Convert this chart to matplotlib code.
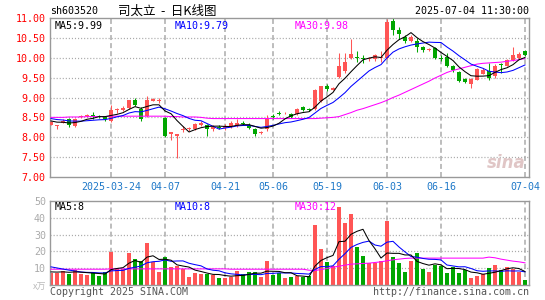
import matplotlib
matplotlib.use('Agg')
import matplotlib.pyplot as plt
import numpy as np
import pandas as pd

plt.rcParams['lines.scale_dashes'] = False

W, H = 545, 300

# ---------------- data ----------------
opens = [8.32, 8.29, 8.37, 8.47, 8.29, 8.51, 8.54, 8.55, 8.54, 8.51,
         8.40, 8.68, 8.68, 8.73, 8.93, 8.72, 8.53, 8.92, 8.91, 8.48,
         8.07, 8.04, 8.18, 8.20, 8.20, 8.30, 8.30, 8.20, 8.26, 8.24,
         8.28, 8.28, 8.37, 8.31, 8.22, 8.11, 8.20, 8.54, 8.61, 8.60,
         8.58, 8.58, 8.77, 8.71, 8.70, 8.90, 9.28, 9.20, 9.52, 9.66,
         9.99, 10.01, 10.00, 9.96, 9.98, 9.99, 9.99, 10.92, 10.70, 10.53,
         10.43, 10.43, 10.28, 10.20, 10.24, 10.00, 10.01, 9.79, 9.64, 9.47,
         9.33, 9.45, 9.60, 9.67, 9.55, 9.85, 9.80, 9.95, 10.00, 10.16]
highs = [8.40, 8.32, 8.45, 8.49, 8.48, 8.56, 8.59, 8.63, 8.57, 8.54,
         8.80, 8.74, 8.78, 8.94, 8.99, 8.76, 9.05, 9.00, 8.98, 8.50,
         8.14, 8.08, 8.28, 8.27, 8.35, 8.40, 8.34, 8.30, 8.32, 8.33,
         8.40, 8.45, 8.40, 8.35, 8.24, 8.16, 8.55, 8.58, 8.65, 8.64,
         8.60, 8.73, 8.79, 8.74, 9.22, 9.30, 9.33, 9.27, 10.12, 10.12,
         10.47, 10.18, 10.08, 10.02, 10.10, 10.18, 10.97, 10.99, 10.78, 10.57,
         10.58, 10.50, 10.30, 10.25, 10.26, 10.07, 10.12, 9.82, 9.66, 9.50,
         9.49, 9.75, 9.73, 9.86, 9.84, 9.86, 9.97, 10.27, 10.14, 10.20]
lows = [8.30, 8.22, 8.35, 8.25, 8.27, 8.48, 8.52, 8.47, 8.48, 8.40,
        8.38, 8.62, 8.66, 8.72, 8.78, 8.40, 8.50, 8.90, 8.87, 8.01,
        7.93, 7.47, 8.12, 8.15, 8.18, 8.28, 8.02, 8.15, 8.20, 8.18,
        8.23, 8.25, 8.30, 8.21, 8.02, 8.09, 8.15, 8.45, 8.55, 8.58,
        8.49, 8.55, 8.65, 8.66, 8.68, 8.88, 9.17, 9.18, 9.50, 9.62,
        9.97, 9.90, 9.88, 9.93, 9.92, 9.90, 9.97, 10.58, 10.48, 10.38,
        10.40, 10.15, 10.15, 10.17, 9.97, 9.92, 9.76, 9.65, 9.40, 9.36,
        9.24, 9.43, 9.58, 9.45, 9.48, 9.62, 9.78, 9.93, 9.98, 10.05]
closes = [8.38, 8.30, 8.41, 8.30, 8.46, 8.53, 8.56, 8.53, 8.52, 8.45,
          8.68, 8.70, 8.74, 8.93, 8.80, 8.47, 8.93, 8.95, 8.93, 8.03,
          8.12, 8.07, 8.21, 8.23, 8.33, 8.36, 8.22, 8.25, 8.24, 8.29,
          8.35, 8.37, 8.33, 8.24, 8.07, 8.13, 8.45, 8.52, 8.59, 8.62,
          8.52, 8.70, 8.68, 8.69, 9.20, 9.28, 9.22, 9.25, 9.78, 9.89,
          10.10, 9.99, 9.98, 9.99, 10.06, 10.01, 10.91, 10.70, 10.59, 10.43,
          10.53, 10.28, 10.20, 10.22, 9.99, 9.98, 9.78, 9.68, 9.42, 9.39,
          9.47, 9.72, 9.69, 9.48, 9.80, 9.82, 9.95, 10.08, 10.10, 10.08]
volumes = [7.4, 7.4, 8.4, 6.6, 9.2, 6.6, 6.0, 7.0, 5.4, 7.6,
           19.8, 9.4, 9.4, 18.8, 15.6, 14.0, 25.2, 13.4, 7.8, 16.4,
           11.0, 11.4, 9.8, 4.8, 7.4, 6.8, 6.8, 5.8, 4.4, 4.4,
           4.8, 8.4, 6.4, 7.8, 7.8, 4.8, 14.4, 6.0, 7.4, 4.0,
           4.8, 5.4, 4.8, 5.4, 36.0, 21.4, 13.8, 11.4, 46.4, 37.2,
           42.0, 22.8, 17.4, 12.8, 12.8, 14.4, 37.8, 16.4, 12.8, 8.0,
           14.4, 18.8, 9.8, 8.0, 12.0, 11.4, 7.4, 10.8, 7.4, 8.8,
           4.0, 5.4, 6.4, 10.2, 12.0, 8.8, 10.8, 9.4, 8.0, 3.2]
# closes / volumes of the days just before the window (seed the moving averages)
prior_closes = [8.55, 8.52, 8.54, 8.50, 8.54, 8.45, 8.42, 8.40, 8.40]
prior_volumes = [14.0, 15.0, 13.0, 14.0, 13.0, 8.0, 7.6, 8.0, 8.0]
price_ma30 = [8.50, 8.50, 8.50, 8.51, 8.51, 8.51, 8.52, 8.52, 8.52, 8.52,
              8.53, 8.53, 8.53, 8.53, 8.53, 8.53, 8.53, 8.53, 8.53, 8.53,
              8.52, 8.52, 8.51, 8.51, 8.51, 8.50, 8.48, 8.47, 8.47, 8.47,
              8.47, 8.47, 8.47, 8.47, 8.47, 8.47, 8.47, 8.47, 8.47, 8.47,
              8.47, 8.47, 8.47, 8.47, 8.47, 8.48, 8.49, 8.50, 8.52, 8.57,
              8.62, 8.68, 8.72, 8.77, 8.82, 8.87, 8.93, 9.00, 9.06, 9.13,
              9.20, 9.27, 9.34, 9.41, 9.49, 9.56, 9.63, 9.68, 9.72, 9.76,
              9.80, 9.84, 9.86, 9.87, 9.88, 9.89, 9.91, 9.93, 9.95, 9.98]
volume_ma30 = [9.4] * 10 + [9.6] * 20 + [9.4] * 13 + \
              [8.8, 8.6, 9.2, 9.8, 10.6, 11.2, 11.8, 12.4, 12.6, 12.8,
               13.0, 13.4, 13.8, 14.4, 15.0, 15.4, 15.8] + [16.0] * 13 + \
              [16.6, 16.2, 15.4, 14.8, 14.2, 13.8, 13.2]

date_tick_idx = [10, 19, 29, 37, 46, 56, 65, 79]
date_tick_labels = ['2025-03-24', '04-07', '04-21', '05-06', '05-19', '06-03', '06-16', '07-04']
price_ticks = [7.0, 7.5, 8.0, 8.5, 9.0, 9.5, 10.0, 10.5, 11.0]
vol_ticks = [10, 20, 30, 40, 50]
price_ma_labels = ['MA5:9.99', 'MA10:9.79', 'MA30:9.98']
vol_ma_labels = ['MA5:8', 'MA10:8', 'MA30:12']

# ---------------- derived ----------------
n = len(closes)
x = np.arange(n)
c_all = pd.Series(prior_closes + closes)
ma5 = c_all.rolling(5).mean().values[len(prior_closes):]
ma10 = c_all.rolling(10).mean().values[len(prior_closes):]
v_all = pd.Series(prior_volumes + volumes)
vma5 = v_all.rolling(5).mean().values[len(prior_volumes):]
vma10 = v_all.rolling(10).mean().values[len(prior_volumes):]

o = np.array(opens); c = np.array(closes); h = np.array(highs); l = np.array(lows)
up = c >= o
RED = '#FF5555'
GREEN = '#00A600'
cols = np.where(up, RED, GREEN)

MONO = 'DejaVu Sans Mono'
FS = 7.2
GRID = '#aaaaaa'
VGRID = '#b8b8b8'
FRAME = '#999999'
LW = 0.75

fig = plt.figure(figsize=(W / 100, H / 100), dpi=100)
fig.patch.set_facecolor('white')

def fx(px):
    return px / W

def fy(py):
    return 1 - py / H

ax1 = fig.add_axes([fx(50), fy(177), 479 / W, 159 / H])
ax2 = fig.add_axes([fx(50), fy(285), 479 / W, 84 / H])

XL = (-0.17, 79.67)

for ax in (ax1, ax2):
    ax.set_xlim(*XL)
    for s in ax.spines.values():
        s.set_color(FRAME)
        s.set_linewidth(1.0)
    for xi in date_tick_idx:
        ax.axvline(xi, color=VGRID, lw=1.3, ls=(0, (3.6, 2.2)), zorder=0)

# main price panel
ax1.set_ylim(7.0, 11.0)
for p in price_ticks[1:-1]:
    ax1.axhline(p, color=GRID, lw=0.9, ls=(0, (0.8, 1.4)), zorder=0)

ax1.vlines(x, l, h, colors=cols, lw=LW, zorder=2)
body_b = np.minimum(o, c)
body_h = np.maximum(np.abs(c - o), 0.022)
ax1.bar(x, body_h, bottom=body_b, width=0.68, color=cols, edgecolor='none', zorder=3)

ax1.plot(x, price_ma30, color='#FF00FF', lw=LW, zorder=4)
ax1.plot(x, ma10, color='#0000FF', lw=LW, zorder=4)
ax1.plot(x, ma5, color='black', lw=LW, zorder=4)

ax1.set_yticks(price_ticks)
ax1.set_yticklabels(['%.2f' % p for p in price_ticks], color='#FF0000',
                    fontsize=FS, family=MONO)
ax1.set_xticks(date_tick_idx)
ax1.set_xticklabels(date_tick_labels, color='#1E78C8', fontsize=FS, family=MONO)
ax1.tick_params(axis='both', length=0)
ax1.tick_params(axis='y', pad=3)
ax1.tick_params(axis='x', pad=3.5)

# sina watermark
ax1.text(0.993, 0.03, 'sina', transform=ax1.transAxes, ha='right', va='bottom',
         fontsize=12, fontstyle='italic', fontweight='bold', color='#d9b8b8',
         alpha=0.8, zorder=1)

# volume panel
ax2.set_ylim(0, 50)
for v in vol_ticks[:-1]:
    ax2.axhline(v, color=GRID, lw=0.9, ls=(0, (0.8, 1.4)), zorder=0)
ax2.bar(x, volumes, width=0.82, color=cols, edgecolor='none', zorder=2)
ax2.plot(x, volume_ma30, color='#FF00FF', lw=LW, zorder=4)
ax2.plot(x, vma10, color='#0000FF', lw=LW, zorder=4)
ax2.plot(x, vma5, color='black', lw=LW, zorder=4)
ax2.set_yticks(vol_ticks)
ax2.set_yticklabels([str(v) for v in vol_ticks], color='#aaaaaa', fontsize=FS, family=MONO)
ax2.set_xticks([])
ax2.tick_params(axis='both', length=0)
ax2.tick_params(axis='y', pad=3)

# texts
fig.text(fx(50), fy(11), 'sh603520', fontsize=FS, family=MONO, color='black',
         ha='left', va='center')
fig.text(fx(118), fy(11), '司太立  -  日K线图', fontsize=9,
         family=['Noto Sans CJK SC', 'DejaVu Sans'], color='black', ha='left', va='center')
fig.text(fx(529), fy(11), '2025-07-04 11:30:00', fontsize=FS, family=MONO,
         color='black', ha='right', va='center')

for txt, px, colr in zip(price_ma_labels, [55, 175, 295], ['black', '#0000FF', '#FF00FF']):
    fig.text(fx(px), fy(26), txt, fontsize=FS, family=MONO, color=colr,
             ha='left', va='center')
for txt, px, colr in zip(vol_ma_labels, [55, 175, 295], ['black', '#0000FF', '#FF00FF']):
    fig.text(fx(px), fy(207), txt, fontsize=FS, family=MONO, color=colr,
             ha='left', va='center')

fig.text(fx(46), fy(287), 'x万', fontsize=6.5,
         family=['Noto Sans CJK SC', 'DejaVu Sans'], color='#bbbbbb',
         ha='right', va='center')
fig.text(fx(50), fy(292), 'Copyright 2025 SINA.COM', fontsize=FS, family=MONO,
         color='#555555', ha='left', va='center')
fig.text(fx(529), fy(292), 'http://finance.sina.com.cn', fontsize=FS, family=MONO,
         color='#555555', ha='right', va='center')

fig.savefig('out.png', dpi=100)
